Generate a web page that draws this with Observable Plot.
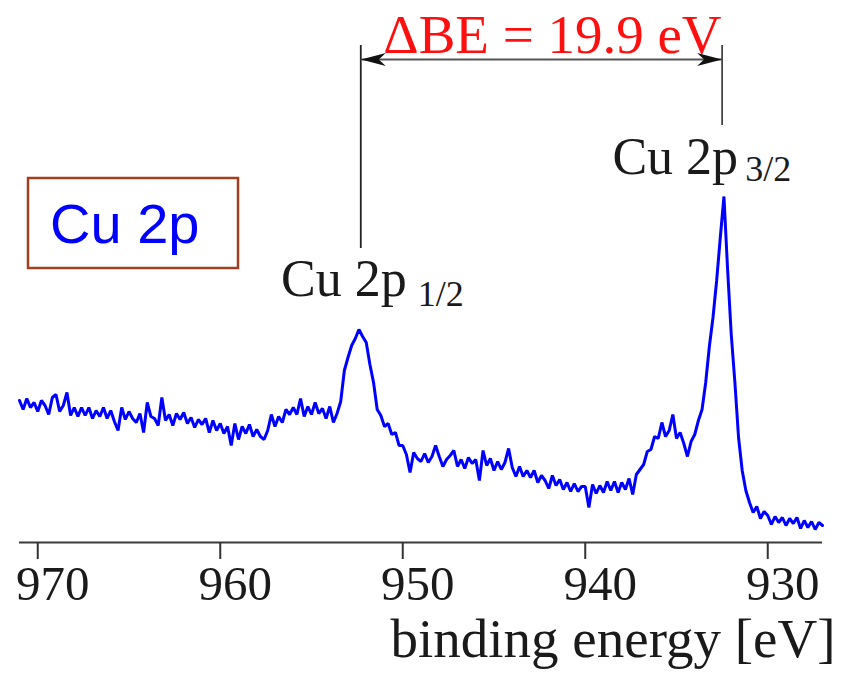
<!DOCTYPE html>
<html><head><meta charset="utf-8">
<script src="https://cdn.jsdelivr.net/npm/d3@7"></script>
<script src="https://cdn.jsdelivr.net/npm/@observablehq/plot@0.6"></script>
<style>body{margin:0;background:#fff} #chart{width:852px;height:675px}</style>
</head><body><div id="chart"></div>
<script>
// Cu 2p XPS spectrum, sampled every 0.2 eV from 971.0 eV down to 927.0 eV (intensity, a.u.)
const energyStart = 971.0;
const energyStep = 0.2;
const intensity = [
  142,133,144,135,140, // 971
  131,142,137,128,145, // 970
  148,131,137,150,127, // 969
  135,126,135,127,135, // 968
  124,132,126,135,124, // 967
  132,121,112,135,123, // 966
  131,124,120,129,110, // 965
  140,126,124,117,145, // 964
  122,128,117,129,123, // 963
  130,119,125,115,123, // 962
  118,124,110,122,112, // 961
  119,109,116,97,119,  // 960
  103,116,109,118,106, // 959
  113,106,103,112,128, // 958
  116,126,120,133,128, // 957
  135,128,144,126,136, // 956
  128,140,129,134,124, // 955
  136,120,129,141,172, // 954
  185,197,204,213,206, // 953
  200,178,160,133,127, // 952
  116,119,108,110,97,  // 951
  97,88,70,90,84,      // 950
  81,89,80,86,97,      // 949
  86,76,83,87,92,      // 948
  76,83,74,85,79,      // 947
  83,62,92,77,84,      // 946
  72,81,73,80,94,      // 945
  75,66,76,66,72,      // 944
  65,72,60,67,62,      // 943
  54,67,57,63,53,      // 942
  60,51,59,51,56,      // 941
  56,35,58,49,57,      // 940
  50,61,52,61,50,      // 939
  60,53,64,48,68,      // 938
  73,78,91,93,106,     // 937
  104,120,106,112,128, // 936
  104,110,99,86,101,   // 935
  108,122,133,160,196, // 934
  225,262,305,346,273, // 933
  208,160,105,72,52,   // 932
  40,30,36,24,31,      // 931
  27,18,26,20,25,      // 930
  17,24,19,25,14,      // 929
  22,15,21,13,20,      // 928
  17                   // 927
];
const xTicks = [970, 960, 950, 940, 930];
const peakNames = ["Cu 2p", "Cu 2p"];
const peakSubs = ["1/2", "3/2"];
const peakEnergy = [952.3, 932.5];
const deltaLabel = "\u0394BE = 19.9 eV";
const xLabel = "binding energy [eV]";
const panelLabel = "Cu 2p";

const spectrum = intensity.map((v, i) => ({E: +(energyStart - i * energyStep).toFixed(1), I: v}));
const peaks = peakEnergy.map((e, i) => ({E: e, name: peakNames[i], sub: peakSubs[i]}));
const p12 = [peaks[0]], p32 = [peaks[1]];
const serif = "'Liberation Serif', 'Times New Roman', serif";
const ink = "#1a1a1a";

const panelMark = () => {
  const g = d3.create("svg:g");
  g.append("rect").attr("x", 28).attr("y", 178).attr("width", 210).attr("height", 90)
    .attr("fill", "none").attr("stroke", "#a33f1f").attr("stroke-width", 2.5);
  g.append("text").attr("x", 50).attr("y", 243).attr("fill", "#0000ff")
    .attr("text-anchor", "start")
    .attr("font-family", "'Liberation Sans', Arial, sans-serif").attr("font-size", 56)
    .text(panelLabel);
  return g.node();
};

const chart = Plot.plot({
  width: 852,
  height: 675,
  marginTop: 0,
  marginLeft: 19,
  marginRight: 30,
  marginBottom: 133,
  style: {fontFamily: serif, background: "white", overflow: "visible"},
  x: {domain: [971, 927], axis: null},
  y: {domain: [0, 542], axis: null},
  marks: [
    Plot.ruleY([0], {stroke: "#3a3a3a", strokeWidth: 2}),
    Plot.tickX(xTicks, {x: d => d, insetTop: 525, dy: 17, stroke: "#333", strokeWidth: 2}),
    Plot.axisX({ticks: xTicks, tickSize: 0, tickPadding: 23, fontSize: 49, dx: 15, fill: ink, label: null, tickFormat: d => String(d)}),
    Plot.line(spectrum, {x: "E", y: "I", stroke: "#0000ff", strokeWidth: 3, strokeLinejoin: "miter"}),
    Plot.ruleX(p12, {x: "E", y1: 294, y2: 497, stroke: "#222", strokeWidth: 1.8}),
    Plot.ruleX(p32, {x: "E", y1: 417, y2: 497, stroke: "#444", strokeWidth: 1.8}),
    Plot.link([0], {x1: peakEnergy[0], x2: peakEnergy[1], y1: 483, y2: 483, stroke: "#555", strokeWidth: 2, markerStart: "arrow", markerEnd: "arrow"}),
    Plot.text([deltaLabel], {x: (peakEnergy[0] + peakEnergy[1]) / 2, y: 490, dx: 11, text: d => d, fill: "#ff1010", fontSize: 55, lineAnchor: "bottom"}),
    Plot.text(p12, {x: "E", y: 247, dx: 46, text: "name", textAnchor: "end", lineAnchor: "bottom", fontSize: 52, fill: ink}),
    Plot.text(p12, {x: "E", y: 237, dx: 57, text: "sub", textAnchor: "start", lineAnchor: "bottom", fontSize: 36, fill: ink}),
    Plot.text(p32, {x: "E", y: 369, dx: 16, text: "name", textAnchor: "end", lineAnchor: "bottom", fontSize: 52, fill: ink}),
    Plot.text(p32, {x: "E", y: 362, dx: 23, text: "sub", textAnchor: "start", lineAnchor: "bottom", fontSize: 36, fill: ink}),
    Plot.text([xLabel], {frameAnchor: "bottom-right", dx: 13, dy: 114, text: d => d, textAnchor: "end", lineAnchor: "bottom", fontSize: 55, fill: ink}),
    panelMark
  ]
});

// filled, barbed arrowheads for the ΔBE dimension line, pointing outward at both ends
d3.select(chart).selectAll("marker").each(function () {
  const m = d3.select(this);
  m.attr("viewBox", "-13 -5 13 10").attr("markerUnits", "userSpaceOnUse")
    .attr("markerWidth", 26).attr("markerHeight", 20)
    .attr("orient", "auto-start-reverse")
    .attr("fill", "#111").attr("stroke", "none");
  m.selectAll("path").attr("d", "M0,0L-12.5,-3.3L-9,0L-12.5,3.3Z");
});

document.getElementById("chart").appendChild(chart);
</script>
</body></html>
